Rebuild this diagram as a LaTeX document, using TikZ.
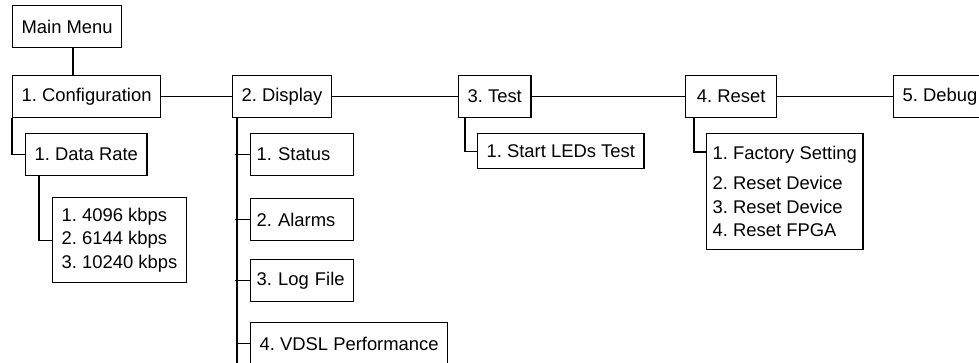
\documentclass[tikz,border=0pt]{standalone}
\usepackage{fontspec}
\setmainfont{Liberation Sans}
\begin{document}
\begin{tikzpicture}[x=1pt,y=-1pt,
  font=\fontsize{18.4}{23.5}\selectfont\frenchspacing,
  box/.style={rectangle,draw=black,line width=1.3pt,anchor=north west,
    inner xsep=9pt,inner ysep=0pt,minimum height=42pt,align=left},
  sub/.style={box,text width=91pt,inner xsep=6pt},
  link/.style={line width=1.2pt}]

\clip (0,0) rectangle (979,362);

\node[box] (main)   at (12,5)   {Main Menu};
\node[box] (conf)   at (12,75)  {1. Configuration};
\node[box] (disp)   at (232,75) {2. Display};
\node[box] (test)   at (458,75) {3. Test};
\node[box,minimum width=91pt] (reset) at (685,75) {4. Reset};
\node[box] (debug)  at (893,75) {5. Debug};

\node[box] (rate)   at (25,133) {1. Data Rate};
\node[box,minimum height=85pt] (rates) at (52,197) {1. 4096 kbps\\2. 6144 kbps\\3. 10240 kbps};

\node[sub] (status) at (250,133) {1. Status};
\node[sub] (alarms) at (250,198) {2. Alarms};
\node[sub] (log)    at (250,259) {3. Log File};
\node[box] (vdsl)   at (250,322) {4. VDSL Performance};

\node[box,minimum height=35pt] (leds) at (477,133) {1. Start LEDs Test};
\node[box,inner xsep=6pt,minimum height=116pt] (resetl) at (706,133)
  {1. Factory Setting\\[6.5pt]2. Reset Device\\3. Reset Device\\4. Reset FPGA};

\coordinate (mm)   at ([xshift=61pt]main.south west);
\coordinate (rr)   at ([xshift=14pt]rate.south west);
\coordinate (dtop) at ([xshift=5pt]disp.south west);
\coordinate (dbot) at (dtop |- 0,370);

\draw[link] (mm) -- (mm |- conf.north);
\draw[link] (conf.east) -- (disp.west);
\draw[link] (disp.east) -- (test.west);
\draw[link] (test.east) -- (reset.west);
\draw[link] (reset.east) -- (debug.west);

\draw[link] (conf.south west) |- (rate.west);
\draw[link] (rr) |- (rates.west);

\draw[link] (dtop) -- (dbot);
\foreach \n in {status,alarms,log}
  \draw[link] (\n.west) -- (\n.west -| dtop) -- ++(-2,0);
\draw[link] (vdsl.west) -- (vdsl.west -| dtop);

\draw[link] ([xshift=7pt]test.south west) |- (leds.west);
\draw[link] ([xshift=9pt]reset.south west) |- ([yshift=-19pt]resetl.north west);

\end{tikzpicture}
\end{document}
